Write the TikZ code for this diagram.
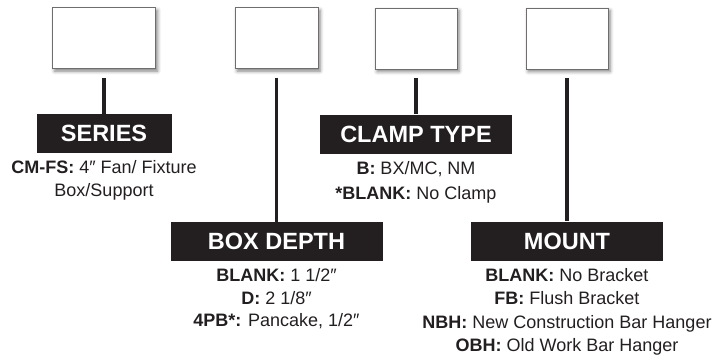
\documentclass[tikz,border=0pt]{standalone}
\usepackage{fontspec}
\setmainfont{Liberation Sans}
\usetikzlibrary{positioning,shadows.blur}
\definecolor{ink}{HTML}{231F20}

\begin{document}
\begin{tikzpicture}[x=1pt, y=-1pt, node distance=45pt,
   slot/.style={draw=ink!65, line width=0.8pt, fill=white, minimum width=82pt, minimum height=61pt,
      blur shadow={shadow xshift=2pt, shadow yshift=-2.5pt, shadow blur radius=3.5pt, shadow opacity=50}},
   tag/.style={fill=ink, text=white, font=\bfseries\fontsize{23.5}{26}\selectfont, minimum height=39pt, inner sep=0pt},
   opts/.style={text=ink, font=\fontsize{18}{22.5}\selectfont, align=center, inner sep=0pt},
   stem/.style={draw=ink, line width=3.2pt, shorten <=9pt}]
   \useasboundingbox (0,0) rectangle (718,362);
   % empty code boxes
   \node[slot, minimum width=103pt] (b_0) at (104,38) {};
   \node[slot, minimum width=83pt]  (b_1) at (276.5,38) {};
   \node[slot] (b_2) at (416,38.5) {};
   \node[slot] (b_3) at (567,38.5) {};
   % headings
   \node[tag, minimum width=135pt] (series) [below=of b_0] {SERIES};
   \node[tag, minimum width=212pt] (depth)  [below=153pt of b_1] {BOX DEPTH};
   \node[tag, minimum width=192pt] (clamp)  [below=of b_2] {CLAMP TYPE};
   \node[tag, minimum width=192pt] (mount)  [below=152pt of b_3] {MOUNT};
   % options
   \node[opts] (series_t) [below=7pt of series] {\textbf{CM-FS:} 4″ Fan/ Fixture\\Box/Support};
   \node[opts] (depth_t)  [below=7pt of depth]  {\textbf{BLANK:} 1 1/2″\\\textbf{D:} 2 1/8″\\\textbf{4PB*:} Pancake, 1/2″};
   \node[opts, font=\fontsize{18}{25}\selectfont] (clamp_t) [below=7pt of clamp] {\textbf{B:} BX/MC, NM\\\textbf{*BLANK:} No Clamp};
   \node[opts, font=\fontsize{18}{23.5}\selectfont] (mount_t) [below=7pt of mount] {\textbf{BLANK:} No Bracket\\\textbf{FB:} Flush Bracket\\\textbf{NBH:} New Construction Bar Hanger\\\textbf{OBH:} Old Work Bar Hanger};
   \path[stem]
    (b_0) edge (series)
    (b_1) edge (depth)
    (b_2) edge (clamp)
    (b_3) edge (mount);
\end{tikzpicture}
\end{document}
